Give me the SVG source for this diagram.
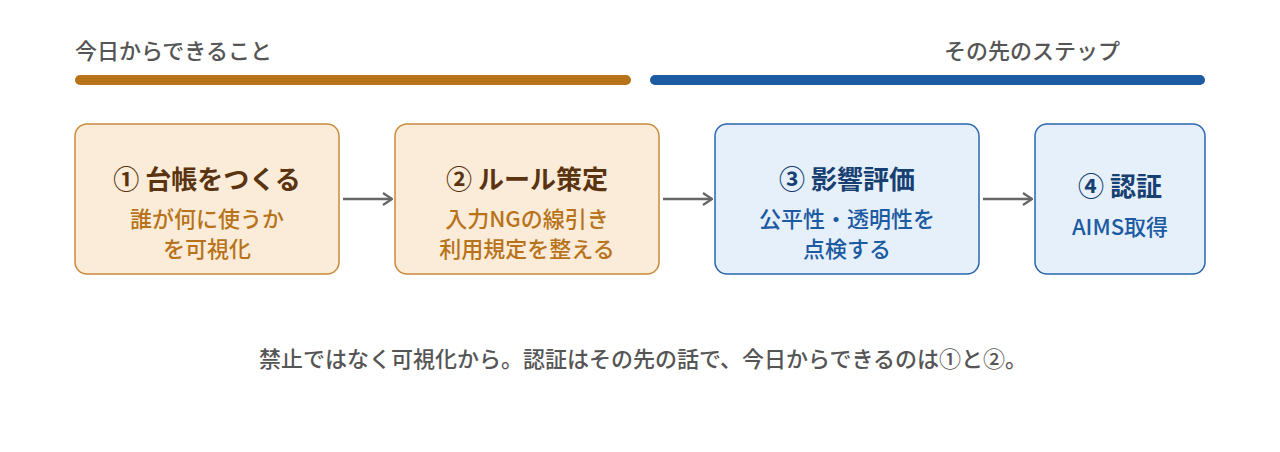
<svg xmlns="http://www.w3.org/2000/svg" width="1280" height="452" viewBox="0 0 1280 452">
<defs>
<style>
text{font-family:"Noto Sans CJK JP","Noto Sans",sans-serif;text-anchor:middle}
.o{fill:#fbecd9;stroke:#c98a3a;stroke-width:1.5}
.b{fill:#e6f0fa;stroke:#2a66ae;stroke-width:1.5}
.ot{fill:#5a3410;font-size:26px;font-weight:bold}
.os{fill:#b8731a;font-size:22px;font-weight:500}
.bt{fill:#173f72;font-size:26px;font-weight:bold}
.bs{fill:#1c5aa2;font-size:22px;font-weight:500}
.h{fill:#555;font-size:22px;font-weight:500}
.c{stroke:#666;stroke-width:2.5;fill:none}
</style>
<marker id="a" viewBox="0 0 12 14" refX="11" refY="7" markerWidth="12" markerHeight="14" orient="auto" markerUnits="userSpaceOnUse"><path d="M2 1L11 7L2 13" fill="none" stroke="#666" stroke-width="2.2"/></marker>
</defs>
<rect width="1280" height="452" fill="#fff"/>
<text class="h" x="75" y="59" style="text-anchor:start">今日からできること</text>
<text class="h" x="1120" y="59" style="text-anchor:end">その先のステップ</text>
<line x1="80" y1="80" x2="626" y2="80" stroke="#b8731a" stroke-width="10" stroke-linecap="round"/>
<line x1="655" y1="80" x2="1200" y2="80" stroke="#1c5aa2" stroke-width="10" stroke-linecap="round"/>
<g id="n1"><rect class="o" x="75" y="124" width="264" height="150" rx="12"/><text class="ot" x="207" y="189">① 台帳をつくる</text><text class="os" x="207" y="227">誰が何に使うか</text><text class="os" x="207" y="257">を可視化</text></g>
<g id="n2"><rect class="o" x="395" y="124" width="264" height="150" rx="12"/><text class="ot" x="527" y="189">② ルール策定</text><text class="os" x="527" y="227">入力NGの線引き</text><text class="os" x="527" y="257">利用規定を整える</text></g>
<g id="n3"><rect class="b" x="715" y="124" width="264" height="150" rx="12"/><text class="bt" x="847" y="189">③ 影響評価</text><text class="bs" x="847" y="227">公平性・透明性を</text><text class="bs" x="847" y="257">点検する</text></g>
<g id="n4"><rect class="b" x="1035" y="124" width="170" height="150" rx="12"/><text class="bt" x="1120" y="196">④ 認証</text><text class="bs" x="1120" y="235">AIMS取得</text></g>
<g id="connectors">
<path class="c" d="M343 199H392" marker-end="url(#a)"/>
<path class="c" d="M663 199H712" marker-end="url(#a)"/>
<path class="c" d="M983 199H1032" marker-end="url(#a)"/>
</g>
<text class="h" x="643" y="367">禁止ではなく可視化から。認証はその先の話で、今日からできるのは①と②。</text>
</svg>
